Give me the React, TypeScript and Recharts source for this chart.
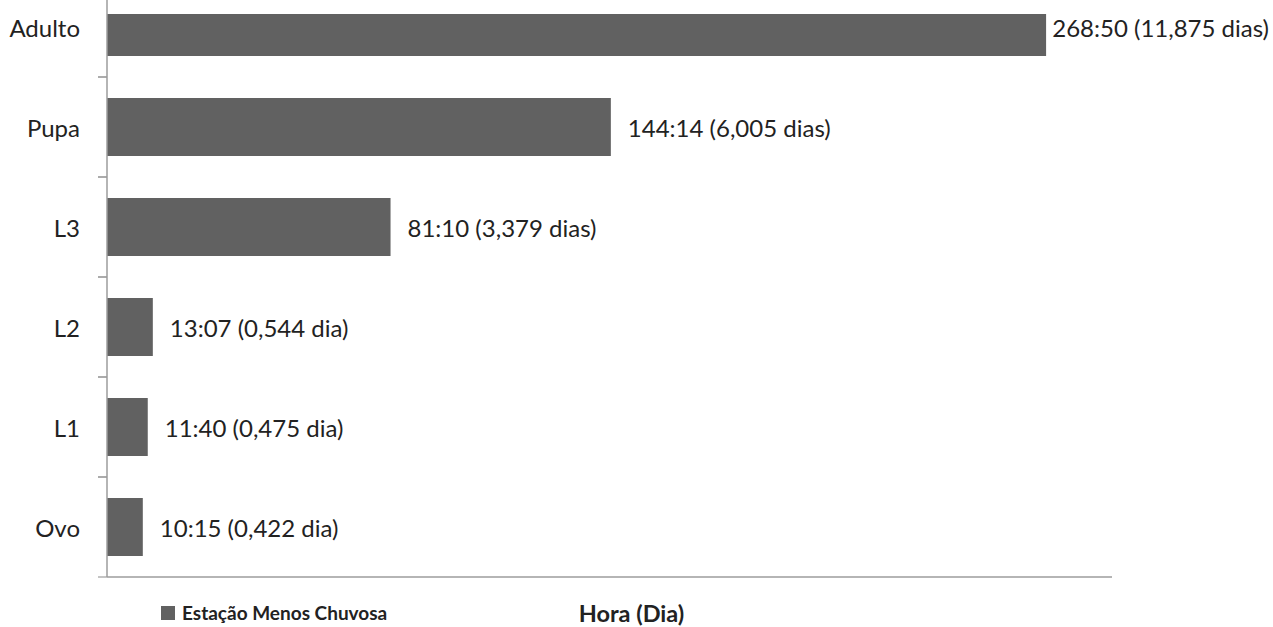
import React from 'react';
import { BarChart, Bar, XAxis, YAxis, LabelList, Legend, Label } from 'recharts';

// Stage durations (hh:mm) and their equivalent in days
const stages = ['Adulto', 'Pupa', 'L3', 'L2', 'L1', 'Ovo'];
const hourLabels = ['268:50', '144:14', '81:10', '13:07', '11:40', '10:15'];
const dayLabels = ['11,875 dias', '6,005 dias', '3,379 dias', '0,544 dia', '0,475 dia', '0,422 dia'];
const seriesName = 'Estação Menos Chuvosa';
const axisTitle = 'Hora (Dia)';
const hourDomainMax = 287.7;

const CHART_W = 1273;
const CHART_H = 627;
const FONT = 'Lato, "Open Sans", sans-serif';
const TEXT = '#222222';
const BAR = '#616161';
const AXIS = '#9c9c9c';
const LABEL_SIZE = 24;
const VISIBLE_TOP = 14;
const TICK_MARGIN = 27;
const TICK_LEN = 9;

const toHours = (hhmm: string) => {
  const [h, m] = hhmm.split(':').map(Number);
  return h + m / 60;
};

const data = stages.map((stage, i) => ({
  stage,
  hours: toHours(hourLabels[i]),
  label: `${hourLabels[i]} (${dayLabels[i]})`,
}));

let ctx: CanvasRenderingContext2D | null = null;
const measure = (text: string, size: number) => {
  if (!ctx) ctx = document.createElement('canvas').getContext('2d');
  if (!ctx) return text.length * size * 0.5;
  ctx.font = `${size}px Lato`;
  return ctx.measureText(text).width;
};

const BarShape = (props: any) => {
  const { x, y, width, height, fill } = props;
  const top = Math.max(y, VISIBLE_TOP);
  return <rect x={x} y={top} width={width} height={Math.max(0, y + height - top)} fill={fill} />;
};

const ValueLabel = (props: any) => {
  const { x, y, width, height, value } = props;
  const w = measure(String(value), LABEL_SIZE);
  let tx = x + width + 17;
  if (tx + w > CHART_W - 4) tx = CHART_W - 4 - w;
  return (
    <text x={tx} y={y + height / 2} dominantBaseline="central" fontFamily={FONT} fontSize={LABEL_SIZE} fill={TEXT}>
      {value}
    </text>
  );
};

// Category label plus the tick marks on the band boundaries
const StageTick = (props: any) => {
  const { x, y, payload } = props;
  const half = payload.offset;
  const axisX = x + TICK_MARGIN;
  return (
    <g>
      {half ? (
        <>
          <line x1={axisX - TICK_LEN} x2={axisX} y1={y - half} y2={y - half} stroke={AXIS} strokeWidth={1.2} />
          <line x1={axisX - TICK_LEN} x2={axisX} y1={y + half} y2={y + half} stroke={AXIS} strokeWidth={1.2} />
        </>
      ) : null}
      <text x={x} y={y} textAnchor="end" dominantBaseline="central" fontFamily={FONT} fontSize={LABEL_SIZE} fill={TEXT}>
        {payload.value}
      </text>
    </g>
  );
};

const AxisTitle = (props: any) => {
  const { viewBox } = props;
  return (
    <text
      x={viewBox.x + viewBox.width / 2 + 22}
      y={viewBox.y + 45}
      textAnchor="middle"
      fontFamily={FONT}
      fontWeight={700}
      fontSize={23.5}
      fill={TEXT}
    >
      {axisTitle}
    </text>
  );
};

const LegendContent = (props: any) => {
  const items = props.payload || [];
  return (
    <div style={{ display: 'flex', alignItems: 'center' }}>
      {items.map((item: any) => (
        <div key={item.value} style={{ display: 'flex', alignItems: 'center' }}>
          <span style={{ display: 'inline-block', width: 14, height: 14, background: BAR, marginRight: 7 }} />
          <span style={{ fontFamily: FONT, fontWeight: 700, fontSize: 19, color: TEXT, lineHeight: '24px' }}>
            {item.value}
          </span>
        </div>
      ))}
    </div>
  );
};

export default function App() {
  return (
    <div style={{ position: 'absolute', left: 0, top: 0, background: '#ffffff' }}>
      <BarChart
        width={CHART_W}
        height={CHART_H}
        data={data}
        layout="vertical"
        margin={{ top: -23, right: 161, bottom: 0, left: 0 }}
      >
        <YAxis
          type="category"
          dataKey="stage"
          orientation="left"
          width={107}
          axisLine={{ stroke: AXIS, strokeWidth: 1.5 }}
          tickLine={false}
          tickSize={0}
          tickMargin={TICK_MARGIN}
          tick={<StageTick />}
        />
        <XAxis
          type="number"
          domain={[0, hourDomainMax]}
          allowDataOverflow
          height={50}
          tick={false}
          tickLine={false}
          axisLine={{ stroke: AXIS, strokeWidth: 1.5 }}
        >
          <Label content={<AxisTitle />} />
        </XAxis>
        <Legend
          layout="horizontal"
          verticalAlign="middle"
          align="center"
          content={<LegendContent />}
          wrapperStyle={{ left: 161, top: 601, width: 300, height: 24 }}
        />
        <Bar
          dataKey="hours"
          name={seriesName}
          fill={BAR}
          barSize={58}
          shape={<BarShape />}
          isAnimationActive={false}
        >
          <LabelList dataKey="label" content={<ValueLabel />} />
        </Bar>
      </BarChart>
    </div>
  );
}
